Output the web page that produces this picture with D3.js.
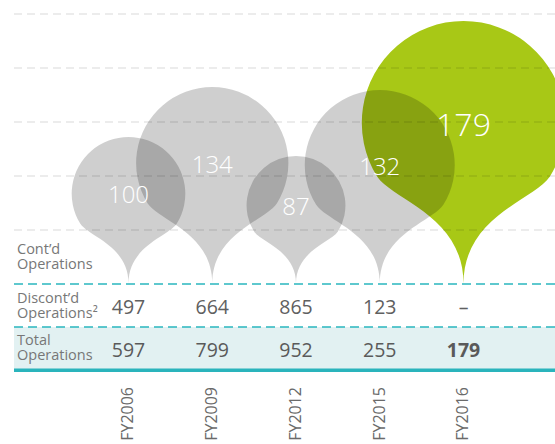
<!DOCTYPE html>
<html>
<head>
<meta charset="utf-8">
<script src="https://cdn.jsdelivr.net/npm/d3@7"></script>
<style>
  body { margin: 0; background: #fff; }
  svg { display: block; font-family: 'Open Sans', sans-serif; }
</style>
</head>
<body>
<div id="chart"></div>
<script>
const categories = ['FY2006', 'FY2009', 'FY2012', 'FY2015', 'FY2016']
const contValues = [100, 134, 87, 132, 179]
const discontValues = [497, 664, 865, 123, null]
const totalValues = [597, 799, 952, 255, 179]
const highlight = 'FY2016'

const width = 555
const height = 444
const left = 14
const tipY = 283.5

const svg = d3.select('#chart')
  .append('svg')
  .attr('width', width)
  .attr('height', height)

// 열 위치
const x = d3.scalePoint()
  .domain(categories)
  .range([128.5, 463.5])

// 반지름은 값에 비례
const r = d3.scaleLinear()
  .domain([0, d3.max(contValues)])
  .range([0, 101.7])

// 가로 눈금선 (0 = 청록 기준선)
const grid = d3.scaleLinear()
  .domain([0, 5])
  .range([284, 14])

// 합계 행 배경
svg.append('rect')
  .attr('x', left)
  .attr('y', 327)
  .attr('width', width - left)
  .attr('height', 42)
  .attr('fill', '#e2f1f2')

// 핀 모양 경로
function pinPath(cx, rad) {
  const cy = tipY - 1.58 * rad
  const p = (u, v) => [cx + u * rad, cy + v * rad]
  const a = 32 * Math.PI / 180
  const path = d3.path()
  path.moveTo(cx, tipY)
  path.bezierCurveTo(...p(0, 0.92), ...p(0.69, 0.76), ...p(Math.cos(a), Math.sin(a)))
  path.arc(cx, cy, rad, a, Math.PI - a, true)
  path.bezierCurveTo(...p(-0.69, 0.76), ...p(0, 0.92), cx, tipY)
  path.closePath()
  return path.toString()
}

const pins = categories.map((c, i) => ({ cat: c, value: contValues[i] }))
// 강조 핀을 먼저 그리고 회색 핀을 위에 겹침
const order = pins.filter(d => d.cat === highlight).concat(pins.filter(d => d.cat !== highlight))

svg.append('g')
  .selectAll('path')
  .data(order)
  .join('path')
  .attr('d', d => pinPath(x(d.cat), r(d.value)))
  .attr('fill', d => d.cat === highlight ? '#a8c816' : '#000')
  .attr('fill-opacity', d => d.cat === highlight ? 1 : 0.19)

// 회색 점선 눈금
svg.append('g')
  .selectAll('line')
  .data(d3.range(1, 6))
  .join('line')
  .attr('x1', left)
  .attr('x2', width)
  .attr('y1', d => grid(d))
  .attr('y2', d => grid(d))
  .attr('stroke', '#000')
  .attr('stroke-opacity', 0.15)
  .attr('stroke-dasharray', '8,5')

// 핀 값 라벨
svg.append('g')
  .selectAll('text')
  .data(pins)
  .join('text')
  .attr('x', d => x(d.cat))
  .attr('y', d => tipY - 1.58 * r(d.value))
  .attr('dy', '0.4em')
  .attr('text-anchor', 'middle')
  .attr('fill', '#fff')
  .attr('font-weight', 350)
  .attr('font-size', d => d.cat === highlight ? '32px' : '24px')
  .text(d => d.value)

// 청록 점선 (행 구분)
svg.append('g')
  .selectAll('line')
  .data([284, 327])
  .join('line')
  .attr('x1', left)
  .attr('x2', width)
  .attr('y1', d => d)
  .attr('y2', d => d)
  .attr('stroke', '#2ab6bf')
  .attr('stroke-width', 1.6)
  .attr('stroke-dasharray', '9,5')

// 하단 실선
svg.append('line')
  .attr('x1', left)
  .attr('x2', width)
  .attr('y1', 370.3)
  .attr('y2', 370.3)
  .attr('stroke', '#2ab4bc')
  .attr('stroke-width', 3.5)

// 행 라벨
const rowLabels = [
  { lines: ['Cont’d', 'Operations'], y: 254.3 },
  { lines: ['Discont’d', 'Operations²'], y: 303.3 },
  { lines: ['Total', 'Operations'], y: 345.3 }
]

const labelText = svg.append('g')
  .selectAll('text')
  .data(rowLabels)
  .join('text')
  .attr('x', 17)
  .attr('y', d => d.y)
  .attr('fill', '#777')
  .attr('font-size', '14.5px')

labelText.selectAll('tspan')
  .data(d => d.lines.map((t, i) => ({ t, y: d.y + i * 15 })))
  .join('tspan')
  .attr('x', 17)
  .attr('y', d => d.y)
  .text(d => d.t)

// 표 수치
svg.append('g')
  .selectAll('text')
  .data(categories.map((c, i) => ({ cat: c, value: discontValues[i] })))
  .join('text')
  .attr('x', d => x(d.cat))
  .attr('y', 314.3)
  .attr('text-anchor', 'middle')
  .attr('fill', '#606060')
  .attr('font-size', '19.5px')
  .text(d => d.value == null ? '–' : d.value)

svg.append('g')
  .selectAll('text')
  .data(categories.map((c, i) => ({ cat: c, value: totalValues[i] })))
  .join('text')
  .attr('x', d => x(d.cat))
  .attr('y', 356.7)
  .attr('text-anchor', 'middle')
  .attr('fill', '#5a5a5a')
  .attr('font-size', '19.5px')
  .attr('font-weight', d => d.cat === highlight ? 700 : 400)
  .text(d => d.value)

// 세로 연도 라벨
svg.append('g')
  .selectAll('text')
  .data(categories)
  .join('text')
  .attr('transform', d => `translate(${x(d)},387) rotate(-90)`)
  .attr('dy', '0.3em')
  .attr('text-anchor', 'end')
  .attr('fill', '#6a6a6a')
  .attr('font-size', '16px')
  .text(d => d)
</script>
</body>
</html>
